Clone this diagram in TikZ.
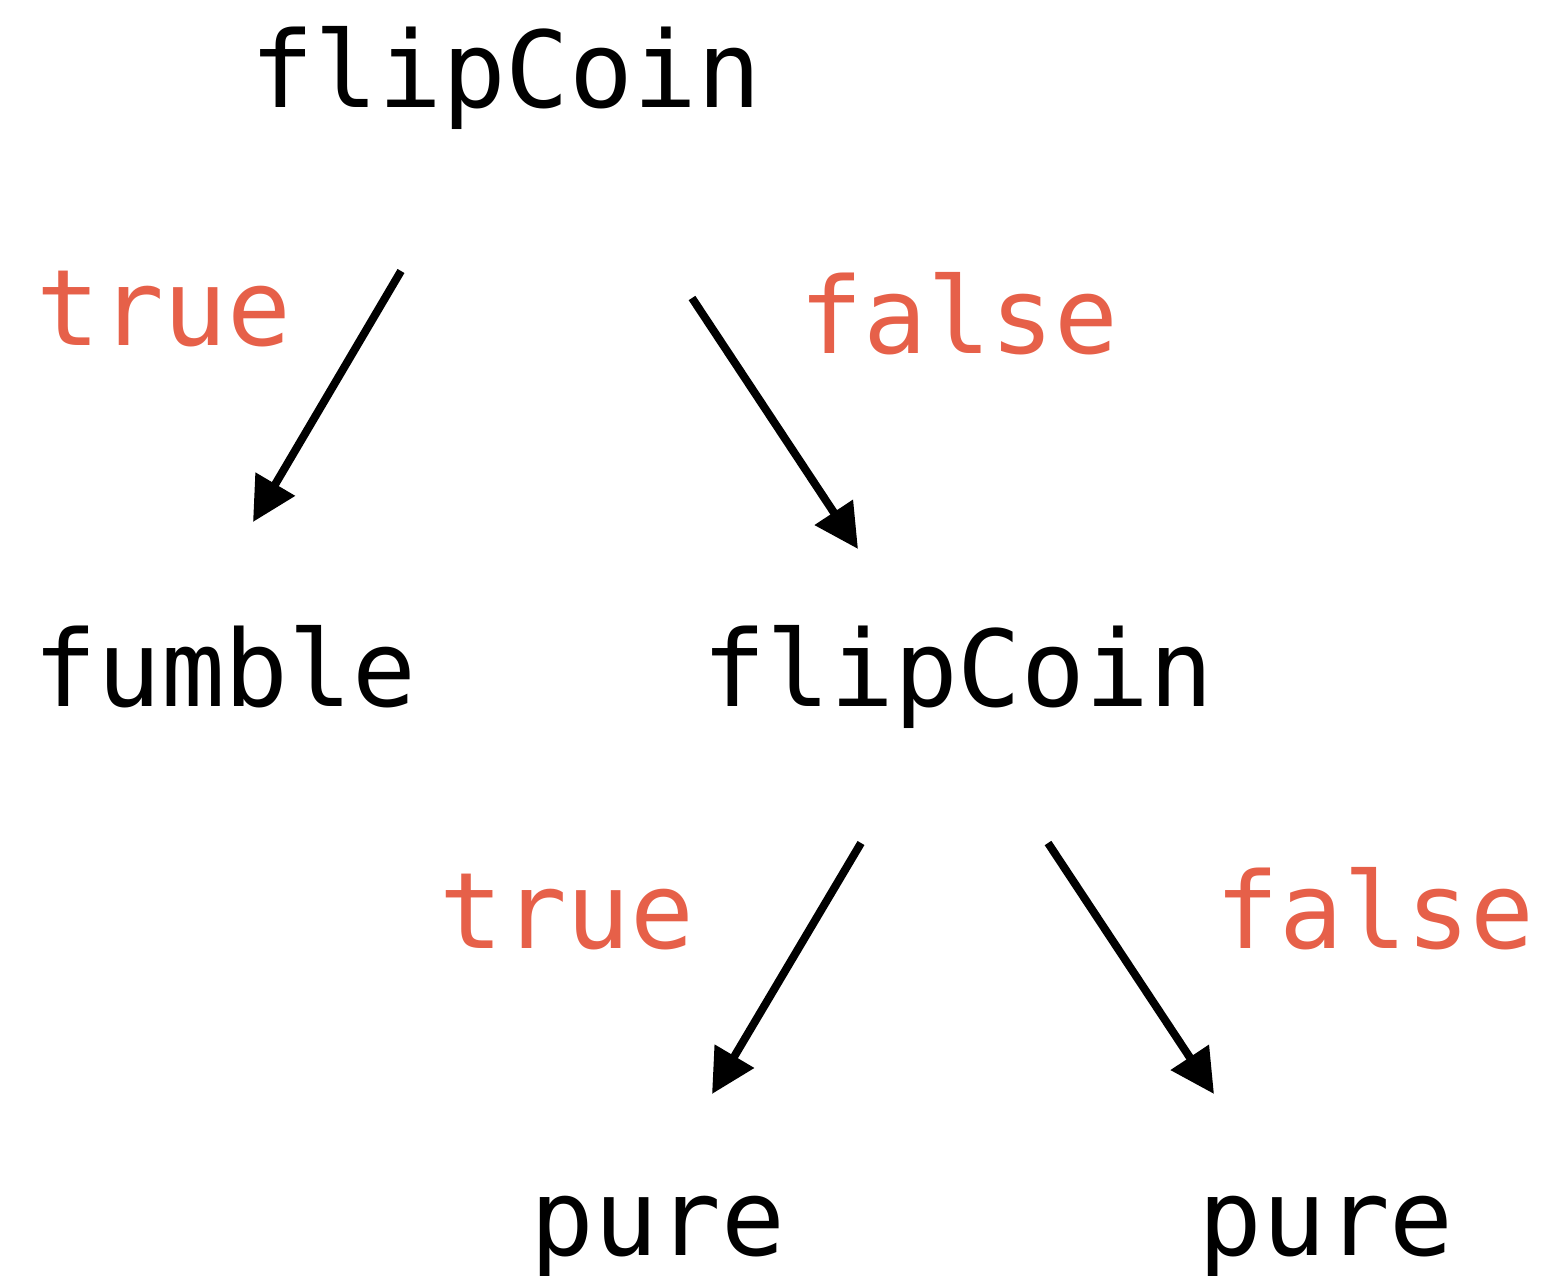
\documentclass[tikz,border=0pt]{standalone}
\usepackage{fontspec}
\setmonofont{DejaVu Sans Mono}
\usetikzlibrary{arrows.meta}
\definecolor{branchred}{HTML}{E66049}

\begin{document}
\begin{tikzpicture}[x=1pt,y=-1pt,>={Triangle[length=44pt,width=44pt]},
                    line width=8pt]
  \tikzstyle{call}=[inner sep=0pt,anchor=base,font=\ttfamily\fontsize{106}{106}\selectfont]
  \tikzstyle{branch}=[call,text=branchred]
  \useasboundingbox (0,0) rectangle (1549,1276);

  \node[call]   (flipA)  at (506,108)  {flipCoin};
  \node[branch] (trueA)  at (164,345)  {true};
  \node[branch] (falseA) at (959,353)  {false};
  \node[call]   (fumble) at (225,706)  {fumble};
  \node[call]   (flipB)  at (958,706)  {flipCoin};
  \node[branch] (trueB)  at (567,948)  {true};
  \node[branch] (falseB) at (1375,948) {false};
  \node[call]   (pureA)  at (658,1255) {pure};
  \node[call]   (pureB)  at (1326,1255) {pure};

  \coordinate (aFrom) at (401,271);  \coordinate (aTo) at (253,522);
  \coordinate (bFrom) at (692,298);  \coordinate (bTo) at (858,549);
  \coordinate (cFrom) at (861,843);  \coordinate (cTo) at (712,1094);
  \coordinate (dFrom) at (1048,843); \coordinate (dTo) at (1214,1094);

  \draw[->] (aFrom) -- (aTo);
  \draw[->] (bFrom) -- (bTo);
  \draw[->] (cFrom) -- (cTo);
  \draw[->] (dFrom) -- (dTo);
\end{tikzpicture}
\end{document}
